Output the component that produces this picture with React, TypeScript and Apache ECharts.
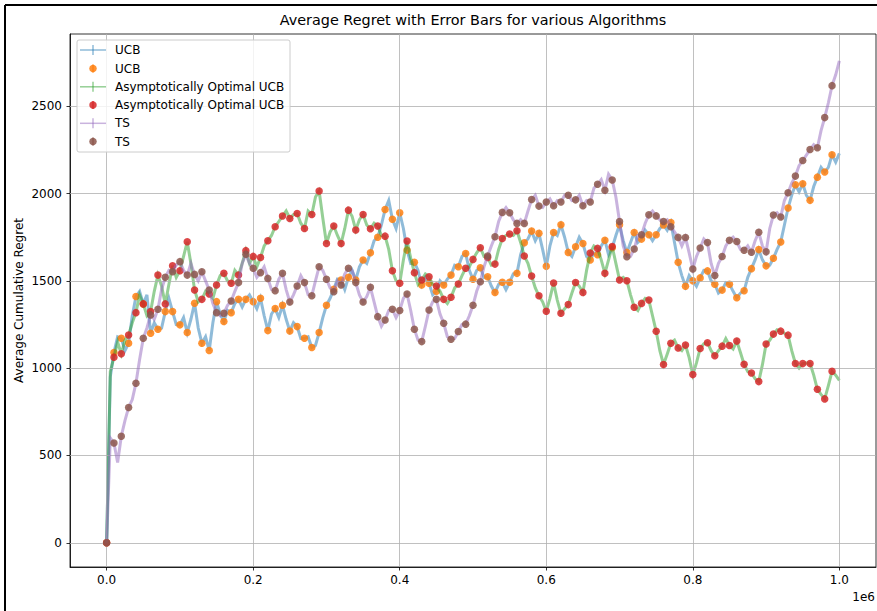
import React, { useEffect, useRef } from "react";
import * as echarts from "echarts";

const STEP = 10000;
const xTicks = [0, 200000, 400000, 600000, 800000, 1000000];
const yTicks = [0, 500, 1000, 1500, 2000, 2500];
const seriesNames = ["UCB", "Asymptotically Optimal UCB", "TS"];

// mean values at t = 0, 10000, ..., 990000 (error-bar points)
const ucbMeans = [
  0, 1090, 1171, 1143, 1410, 1368, 1200, 1223, 1324, 1324,
  1248, 1204, 1372, 1143, 1101, 1381, 1267, 1318, 1394, 1394,
  1381, 1400, 1215, 1341, 1360, 1213, 1238, 1171, 1118, 1204,
  1360, 1452, 1505, 1520, 1505, 1619, 1661, 1750, 1909, 1853,
  1890, 1676, 1606, 1476, 1486, 1440, 1476, 1533, 1581, 1657,
  1509, 1575, 1524, 1433, 1492, 1492, 1543, 1718, 1785, 1772,
  1583, 1777, 1821, 1663, 1695, 1714, 1619, 1650, 1733, 1690,
  1821, 1663, 1777, 1739, 1764, 1764, 1820, 1834, 1606, 1469,
  1500, 1517, 1557, 1481, 1447, 1481, 1403, 1443, 1570, 1679,
  1586, 1629, 1723, 1917, 2050, 2056, 1961, 2094, 2123, 2222,
];
// curve values half-way between the error-bar points (t = 5000, 15000, ..., 995000)
const ucbBetween = [
  950, 1180, 1100, 1300, 1440, 1420, 1260, 1230, 1400, 1250,
  1290, 1280, 1230, 1180, 1260, 1310, 1330, 1370, 1350, 1420,
  1340, 1300, 1310, 1290, 1280, 1260, 1170, 1180, 1130, 1290,
  1400, 1510, 1450, 1560, 1580, 1600, 1730, 1820, 1960, 1800,
  1800, 1600, 1560, 1520, 1420, 1500, 1510, 1590, 1640, 1560,
  1560, 1520, 1470, 1480, 1450, 1540, 1650, 1740, 1730, 1680,
  1700, 1760, 1750, 1640, 1750, 1640, 1660, 1700, 1650, 1760,
  1730, 1720, 1720, 1790, 1730, 1800, 1790, 1720, 1530, 1530,
  1470, 1560, 1500, 1430, 1490, 1440, 1430, 1520, 1620, 1620,
  1590, 1680, 1820, 1990, 2010, 1990, 2040, 2150, 2150, 2180,
];
const ucbLast = 2230;

const aoMeans = [
  0, 1063, 1082, 1190, 1318, 1368, 1324, 1533, 1368, 1587,
  1558, 1724, 1448, 1394, 1425, 1476, 1543, 1486, 1533, 1673,
  1640, 1634, 1730, 1810, 1871, 1857, 1886, 1800, 1880, 2015,
  1714, 1814, 1714, 1905, 1791, 1880, 1798, 1814, 1756, 1558,
  1486, 1728, 1547, 1505, 1524, 1471, 1394, 1406, 1482, 1572,
  1623, 1690, 1634, 1596, 1743, 1768, 1787, 1642, 1528, 1415,
  1326, 1488, 1314, 1364, 1491, 1434, 1659, 1686, 1543, 1697,
  1505, 1501, 1349, 1371, 1390, 1211, 1021, 1143, 1116, 1132,
  963, 1113, 1146, 1071, 1126, 1130, 1155, 1022, 972, 923,
  1138, 1195, 1212, 1189, 1027, 1026, 1027, 879, 824, 982,
];
const aoBetween = [
  980, 1150, 1160, 1260, 1420, 1300, 1440, 1470, 1480, 1520,
  1640, 1600, 1380, 1440, 1400, 1530, 1500, 1560, 1600, 1600,
  1580, 1700, 1760, 1840, 1900, 1880, 1830, 1900, 1980, 1860,
  1780, 1760, 1800, 1870, 1850, 1820, 1830, 1760, 1680, 1500,
  1620, 1630, 1480, 1540, 1480, 1440, 1370, 1460, 1530, 1580,
  1660, 1640, 1590, 1680, 1760, 1760, 1720, 1600, 1460, 1380,
  1400, 1390, 1340, 1430, 1470, 1560, 1700, 1620, 1620, 1600,
  1520, 1420, 1330, 1400, 1300, 1100, 1080, 1160, 1100, 1060,
  1030, 1140, 1100, 1100, 1170, 1110, 1090, 980, 940, 1020,
  1160, 1220, 1200, 1100, 1000, 1030, 960, 850, 900, 960,
];
const aoLast = 930;

const tsMeans = [
  0, 571, 610, 775, 914, 1171, 1305, 1337, 1520, 1552,
  1610, 1533, 1537, 1552, 1448, 1318, 1314, 1385, 1490, 1652,
  1572, 1547, 1514, 1444, 1543, 1379, 1471, 1490, 1415, 1581,
  1509, 1438, 1476, 1572, 1490, 1379, 1463, 1295, 1276, 1337,
  1330, 1425, 1223, 1152, 1333, 1394, 1257, 1166, 1210, 1252,
  1360, 1495, 1642, 1753, 1892, 1890, 1829, 1829, 1966, 1928,
  1952, 1930, 1952, 1990, 1964, 1930, 1952, 2053, 2019, 2078,
  1840, 1638, 1682, 1764, 1878, 1872, 1840, 1810, 1749, 1748,
  1568, 1688, 1719, 1530, 1639, 1732, 1725, 1675, 1664, 1778,
  1666, 1877, 1866, 2005, 2100, 2189, 2252, 2262, 2435, 2618,
];
const tsBetween = [
  600, 460, 700, 820, 1050, 1230, 1280, 1450, 1560, 1590,
  1560, 1600, 1500, 1500, 1370, 1300, 1360, 1440, 1600, 1600,
  1520, 1580, 1450, 1510, 1450, 1420, 1530, 1420, 1500, 1560,
  1460, 1500, 1540, 1560, 1420, 1410, 1380, 1240, 1330, 1290,
  1400, 1330, 1160, 1240, 1380, 1310, 1180, 1170, 1250, 1300,
  1440, 1580, 1700, 1840, 1920, 1850, 1850, 1900, 1990, 1920,
  1970, 1960, 1990, 1960, 1990, 1960, 2030, 2080, 2110, 1980,
  1700, 1640, 1760, 1830, 1900, 1850, 1850, 1780, 1700, 1660,
  1640, 1740, 1600, 1600, 1700, 1750, 1680, 1700, 1730, 1700,
  1800, 1890, 1960, 2060, 2160, 2220, 2280, 2360, 2520, 2680,
];
const tsLast = 2760;

const lineColors = ["#1f77b4", "#2ca02c", "#9467bd"];
const dotColors = ["#ff7f0e", "#d62728", "#8c564b"];

function buildCurve(means: number[], between: number[], last: number) {
  const out: number[][] = [];
  for (let i = 0; i < means.length; i++) {
    out.push([i * STEP, means[i]]);
    out.push([i * STEP + STEP / 2, between[i]]);
  }
  out.push([means.length * STEP, last]);
  return out;
}
function buildDots(means: number[]) {
  return means.map((v, i) => [i * STEP, v]);
}

const FONT = "DejaVu Sans";

export default function App() {
  const ref = useRef<HTMLDivElement>(null);
  useEffect(() => {
    if (!ref.current) return;
    const chart = echarts.init(ref.current, null, { renderer: "svg" });
    const curves = [
      buildCurve(ucbMeans, ucbBetween, ucbLast),
      buildCurve(aoMeans, aoBetween, aoLast),
      buildCurve(tsMeans, tsBetween, tsLast),
    ];
    const dots = [buildDots(ucbMeans), buildDots(aoMeans), buildDots(tsMeans)];
    const series: any[] = [
      {
        type: "line",
        data: [],
        silent: true,
        z: 1,
        markLine: {
          silent: true,
          symbol: "none",
          label: { show: false },
          lineStyle: { color: "#b0b0b0", width: 0.8, type: "solid" },
          data: [
            ...xTicks.map((v) => ({ xAxis: v })),
            ...yTicks.map((v) => ({ yAxis: v })),
          ],
        },
      },
    ];
    for (let k = 0; k < 3; k++) {
      series.push({
        type: "line",
        name: seriesNames[k],
        data: curves[k],
        showSymbol: false,
        symbol: "none",
        z: 2 + k * 2,
        lineStyle: { color: lineColors[k], width: 3, opacity: 0.5, join: "miter" },
      });
      series.push({
        type: "scatter",
        name: seriesNames[k] + " ",
        data: dots[k],
        symbol: "circle",
        symbolSize: 7.5,
        z: 3 + k * 2,
        itemStyle: { color: dotColors[k], opacity: 0.85 },
      });
    }

    const legendY = [50, 68.5, 86.8, 105, 123.3, 141.5];
    const legendItems: any[] = [
      {
        type: "rect",
        shape: { x: 77, y: 40, width: 213, height: 112, r: 2 },
        style: { fill: "rgba(255,255,255,0.8)", stroke: "#cccccc", lineWidth: 1 },
        z: 100,
      },
    ];
    for (let k = 0; k < 3; k++) {
      const yl = legendY[2 * k];
      const yd = legendY[2 * k + 1];
      legendItems.push(
        { type: "line", shape: { x1: 80, y1: yl, x2: 106, y2: yl }, style: { stroke: lineColors[k], lineWidth: 1.5, opacity: 0.5 }, z: 101 },
        { type: "line", shape: { x1: 93, y1: yl - 5, x2: 93, y2: yl + 5 }, style: { stroke: lineColors[k], lineWidth: 1.5, opacity: 0.5 }, z: 101 },
        { type: "text", x: 115, y: yl, style: { text: seriesNames[k], fontFamily: FONT, fontSize: 12, fill: "#000", verticalAlign: "middle" }, z: 101 },
        { type: "line", shape: { x1: 93, y1: yd - 4, x2: 93, y2: yd + 4 }, style: { stroke: dotColors[k], lineWidth: 1.5, opacity: 0.85 }, z: 101 },
        { type: "circle", shape: { cx: 93, cy: yd, r: 3.75 }, style: { fill: dotColors[k], opacity: 0.85 }, z: 101 },
        { type: "text", x: 115, y: yd, style: { text: seriesNames[k], fontFamily: FONT, fontSize: 12, fill: "#000", verticalAlign: "middle" }, z: 101 }
      );
    }

    chart.setOption({
      animation: false,
      backgroundColor: "#ffffff",
      textStyle: { fontFamily: FONT },
      grid: {
        left: 70,
        top: 34,
        right: 1,
        bottom: 44,
        show: true,
        borderColor: "#000",
        borderWidth: 0.8,
        backgroundColor: "transparent",
        containLabel: false,
      },
      xAxis: {
        type: "value",
        min: -50000,
        max: 1050000,
        axisLine: { show: true, onZero: false, lineStyle: { color: "#000", width: 0.8 } },
        axisTick: { show: true, length: 3.5, customValues: xTicks, lineStyle: { color: "#000", width: 0.8 } },
        axisLabel: {
          customValues: xTicks,
          margin: 7,
          fontFamily: FONT,
          fontSize: 12,
          color: "#000",
          formatter: (v: number) => (v / 1e6).toFixed(1),
        },
        splitLine: { show: false },
      },
      yAxis: {
        type: "value",
        min: -138.75,
        max: 2913.75,
        axisLine: { show: true, onZero: false, lineStyle: { color: "#000", width: 0.8 } },
        axisTick: { show: true, length: 3.5, customValues: yTicks, lineStyle: { color: "#000", width: 0.8 } },
        axisLabel: {
          customValues: yTicks,
          margin: 8,
          fontFamily: FONT,
          fontSize: 12,
          color: "#000",
          formatter: (v: number) => String(Math.round(v)),
        },
        splitLine: { show: false },
      },
      series,
      graphic: [
        { type: "line", shape: { x1: 5, y1: 5, x2: 877, y2: 5 }, style: { stroke: "#000", lineWidth: 2 } },
        { type: "line", shape: { x1: 5, y1: 5, x2: 5, y2: 611 }, style: { stroke: "#000", lineWidth: 2 } },
        {
          type: "text",
          x: 473,
          y: 20,
          style: {
            text: "Average Regret with Error Bars for various Algorithms",
            fontFamily: FONT,
            fontSize: 14.4,
            fill: "#000",
            align: "center",
            verticalAlign: "middle",
          },
        },
        {
          type: "text",
          x: 19,
          y: 300.5,
          rotation: Math.PI / 2,
          style: {
            text: "Average Cumulative Regret",
            fontFamily: FONT,
            fontSize: 12,
            fill: "#000",
            align: "center",
            verticalAlign: "middle",
          },
        },
        {
          type: "text",
          x: 875,
          y: 597,
          style: { text: "1e6", fontFamily: FONT, fontSize: 12, fill: "#000", align: "right", verticalAlign: "middle" },
        },
        ...legendItems,
      ],
    });
    return () => chart.dispose();
  }, []);
  return (
    <div
      ref={ref}
      style={{ position: "fixed", left: 0, top: 0, width: 877, height: 611, background: "#fff" }}
    />
  );
}
